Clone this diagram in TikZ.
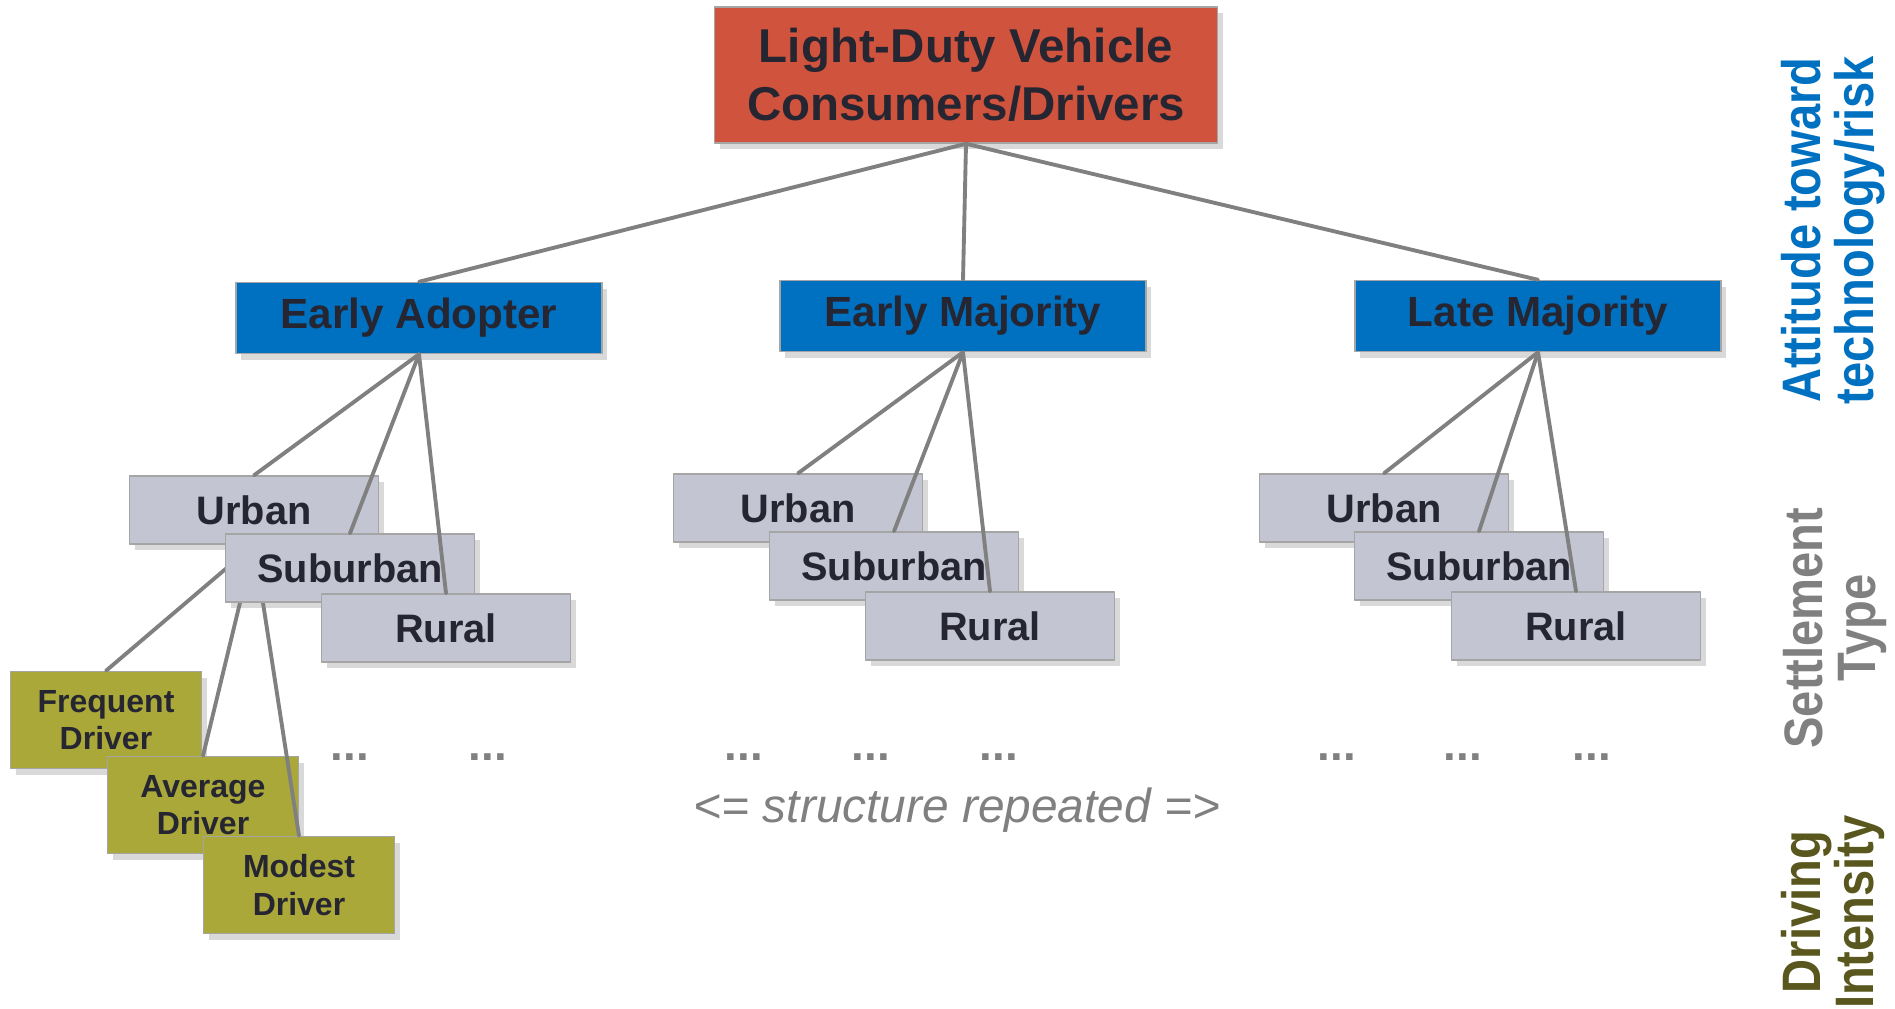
\documentclass[tikz,border=0pt]{standalone}
\usepackage{fontspec}
\setmainfont{Liberation Sans}
\newfontfamily\narrowsf[FakeStretch=0.87]{Liberation Sans}
\usetikzlibrary{shadows}
\definecolor{topred}{RGB}{208,83,61}
\definecolor{tierblue}{RGB}{0,112,192}
\definecolor{settlegray}{RGB}{196,197,210}
\definecolor{driveolive}{RGB}{171,168,58}
\definecolor{darkolive}{RGB}{89,87,30}
\definecolor{inkdark}{RGB}{38,38,50}
\definecolor{linkgray}{RGB}{128,128,128}
\definecolor{edgegray}{RGB}{165,165,165}

\begin{document}
\begin{tikzpicture}[x=0.01cm, y=-0.01cm, line join=round, line cap=round,
  box/.style={draw=edgegray, line width=0.4pt, text=inkdark, align=center, inner sep=0pt,
    drop shadow={shadow xshift=1.5pt, shadow yshift=-1.8pt, opacity=0.3}},
  rootbox/.style={box, fill=topred, minimum width=5.03cm, minimum height=1.36cm,
    font=\bfseries\fontsize{13.5}{16.5}\selectfont},
  tierbox/.style={box, fill=tierblue, minimum width=3.66cm, minimum height=0.71cm,
    font=\bfseries\fontsize{12}{14}\selectfont},
  areabox/.style={box, fill=settlegray, minimum width=2.49cm, minimum height=0.68cm,
    font=\bfseries\fontsize{11.3}{13}\selectfont},
  drivebox/.style={box, fill=driveolive, minimum width=1.91cm, minimum height=0.97cm,
    font=\bfseries\fontsize{9.1}{10.7}\selectfont},
  link/.style={draw=linkgray, line width=1.1pt},
  dots/.style={text=linkgray, anchor=base, font=\bfseries\fontsize{13}{15}\selectfont},
  sidelabel/.style={rotate=90, align=center, font=\narrowsf\bfseries\fontsize{15.4}{15}\selectfont}]
\useasboundingbox (0,0) rectangle (1895,1008);

\node[rootbox] (root) at (966,75) {Light-Duty Vehicle\\Consumers/Drivers};
\node[tierbox] (early) at (419,318) {Early Adopter};
\node[tierbox] (majority) at (963,316) {Early Majority};
\node[tierbox] (late) at (1538,316) {Late Majority};
\draw[link] (root.south) -- (early.north);
\draw[link] (root.south) -- (majority.north);
\draw[link] (root.south) -- (late.north);

\node[areabox] (urbanA) at (254,510) {Urban};
\node[drivebox] (frequent) at (106,720) {Frequent\\Driver};
\node[drivebox] (average) at (203,805) {Average\\Driver};
\node[drivebox] (modest) at (299,885) {Modest\\Driver};
\draw[link] (urbanA.south) -- (frequent.north);
\draw[link] (urbanA.south) -- (average.north);
\draw[link] (urbanA.south) -- (modest.north);
\node[areabox] (suburbA) at (350,568) {Suburban};
\node[areabox] (ruralA) at (446,628) {Rural};
\draw[link] (early.south) -- (urbanA.north);
\draw[link] (early.south) -- (suburbA.north);
\draw[link] (early.south) -- (ruralA.north);

\node[areabox] (urbanB) at (798,508) {Urban};
\node[areabox] (suburbB) at (894,566) {Suburban};
\node[areabox] (ruralB) at (990,626) {Rural};
\draw[link] (majority.south) -- (urbanB.north);
\draw[link] (majority.south) -- (suburbB.north);
\draw[link] (majority.south) -- (ruralB.north);

\node[areabox] (urbanC) at (1384,508) {Urban};
\node[areabox] (suburbC) at (1479,566) {Suburban};
\node[areabox] (ruralC) at (1576,626) {Rural};
\draw[link] (late.south) -- (urbanC.north);
\draw[link] (late.south) -- (suburbC.north);
\draw[link] (late.south) -- (ruralC.north);

\foreach \x [count=\i] in {350,488,744,871,999,1337,1463,1592}
  \node[dots] (dots\i) at (\x,760) {...};
\node[text=linkgray, font=\itshape\fontsize{13.6}{16}\selectfont] (repeat) at (957,810) {<= structure repeated =>};

\node[sidelabel, text=tierblue] (attitude) at (1833,230) {Attitude toward\\technology/risk};
\node[sidelabel, text=linkgray] (settlement) at (1835,628) {Settlement\\Type};
\node[sidelabel, text=darkolive] (intensity) at (1833,912) {Driving\\Intensity};
\end{tikzpicture}
\end{document}
